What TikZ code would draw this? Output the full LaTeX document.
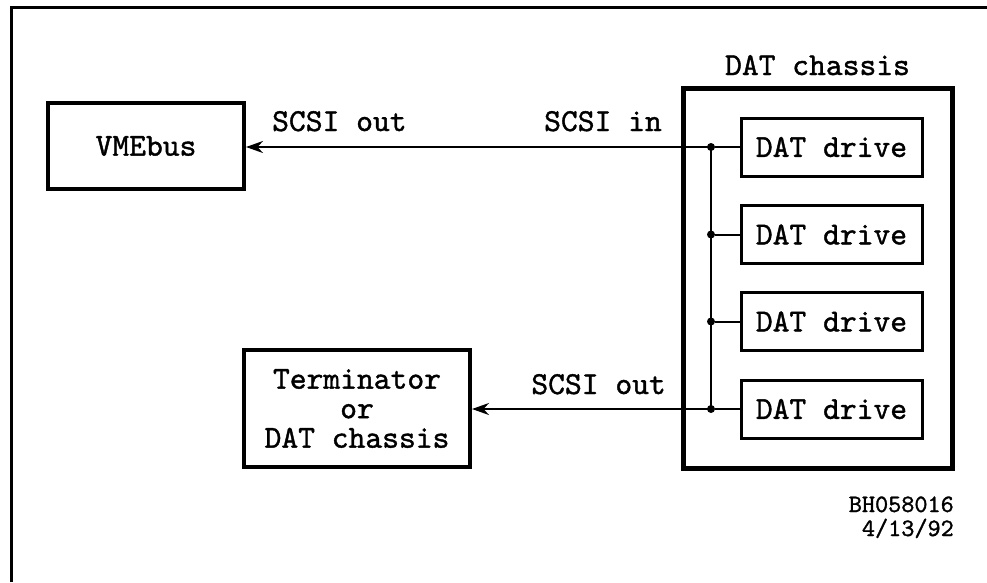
\documentclass[tikz,border=0pt]{standalone}
\usepackage{fontspec}
\newfontfamily\diagfont{lmmono10-regular.otf}[FakeBold=1.2]
\usetikzlibrary{arrows.meta}
\begin{document}
\begin{tikzpicture}[x=1pt,y=-1pt,
  txt/.style={font=\fontsize{32}{29.5}\selectfont\diagfont},
  small/.style={font=\fontsize{25}{23}\selectfont\diagfont, inner sep=0pt, align=right},
  lab/.style={txt, inner sep=0pt},
  box/.style={draw, txt, inner sep=0pt, line width=4pt, align=center},
  chassisbox/.style={draw, inner sep=0pt, line width=5pt, minimum width=269pt, minimum height=380pt},
  drivebox/.style={draw, txt, inner sep=0pt, line width=3pt, minimum width=181pt, minimum height=58pt},
  conn/.style={line width=2pt},
  arr/.style={conn, -{Stealth[length=17pt,width=12pt]}},
  dot/.style={circle, fill, inner sep=0pt, minimum size=8pt}]
\useasboundingbox (0,0) rectangle (987,582);
% outer frame
\draw[line width=3pt] (11,582) -- (11,7) -- (987,7);
% boxes
\node[box, minimum width=196pt, minimum height=86pt] (vme) at (146,146) {VMEbus};
\node[box, minimum width=226pt, minimum height=117pt] (term) at (357,408.5) {Terminator\\or\\DAT chassis};
\node[chassisbox] (chassis) at (817.5,278) {};
\node[lab, anchor=base] (chlab) at (817.5,75) {DAT chassis};
\node[drivebox] (d1) at (831.5,147) {DAT drive};
\node[drivebox] (d2) at (831.5,234.5) {DAT drive};
\node[drivebox] (d3) at (831.5,321.5) {DAT drive};
\node[drivebox] (d4) at (831.5,409) {DAT drive};
% bus junctions
\node[dot] (j1) at (711,147) {};
\node[dot] (j2) at (711,234.5) {};
\node[dot] (j3) at (711,321.5) {};
\node[dot] (j4) at (711,409) {};
\draw[conn] (j1.center) -- (j4.center);
\draw[conn] (j1) -- (d1.west);
\draw[conn] (j2) -- (d2.west);
\draw[conn] (j3) -- (d3.west);
\draw[conn] (j4) -- (d4.west);
% SCSI connectors
\draw[arr] (j1.center) -- (j1 -| vme.east);
\draw[arr] (j4.center) -- (j4 -| term.east);
% labels
\node[lab, anchor=base west] (so1) at (272,131) {SCSI out};
\node[lab, anchor=base east] (si1) at (662,131) {SCSI in};
\node[lab, anchor=base east] (so2) at (666,394) {SCSI out};
\node[small, anchor=base east] (id1) at (954,512) {BH058016};
\node[small, anchor=base east] (id2) at (954,536) {4/13/92};
\end{tikzpicture}
\end{document}
